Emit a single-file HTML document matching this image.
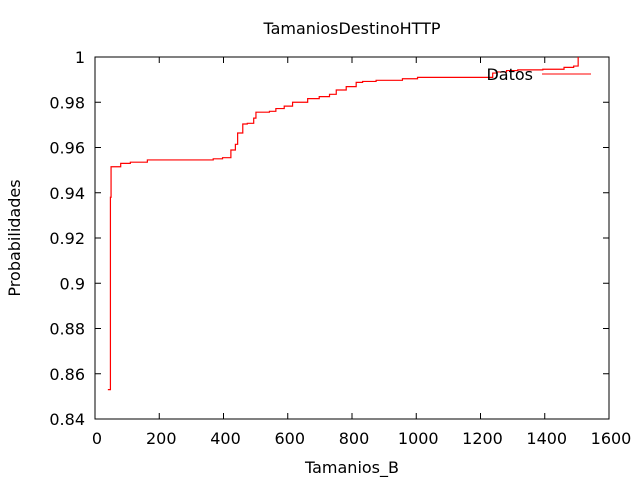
<!DOCTYPE html>
<html><head><meta charset="utf-8"><style>
body{margin:0;background:#fff}
svg text{font-family:"DejaVu Sans","Liberation Sans",sans-serif;font-size:16px;fill:#000}
</style></head><body>
<svg width="640" height="480" xmlns="http://www.w3.org/2000/svg">
<g id="g"></g>
</svg>
<script>
const xs=[40,48,50,80,110,163,368,397,423,437,444,460,474,494,501,543,563,589,615,662,698,730,751,782,813,833,875,957,1004,1238,1250,1281,1316,1394,1460,1490,1504];
const ys=[0.853,0.938,0.9515,0.953,0.9535,0.9545,0.955,0.9555,0.9589,0.9614,0.9664,0.9704,0.9707,0.973,0.9756,0.976,0.9772,0.9783,0.980,0.9816,0.9825,0.9835,0.9854,0.9869,0.9888,0.9892,0.9897,0.9904,0.991,0.9929,0.9934,0.994,0.9943,0.9946,0.9954,0.996,1.0];
const xTicks=[0,200,400,600,800,1000,1200,1400,1600];
const yTicks=[0.84,0.86,0.88,0.9,0.92,0.94,0.96,0.98,1];
const L=95,R=609,T=57,B=419;
const X=v=>L+(v-0)/1600*(R-L);
const Y=v=>B-(v-0.84)/0.16*(B-T);
const g=document.getElementById('g');
const NS='http://www.w3.org/2000/svg';
function mk(t,a,txt){const e=document.createElementNS(NS,t);for(const k in a)e.setAttribute(k,a[k]);if(txt!==undefined)e.textContent=txt;g.appendChild(e);return e;}
xTicks.forEach(v=>{
 const x=X(v);
 const t=mk('path',{d:`M${x} ${B}v-6M${x} ${T}v6`,stroke:'#000','stroke-width':1});
 
 
 const l=mk('text',{x:x+2,y:B+25,'text-anchor':'middle'},String(v));
 
 
});
yTicks.forEach(v=>{
 const y=Y(v);
 const t=mk('path',{d:`M${L} ${y}h6M${R} ${y}h-6`,stroke:'#000','stroke-width':1});
 
 
 const l=mk('text',{x:L-10,y:y+6,'text-anchor':'end'},String(v));
 
 
});
const fr=mk('rect',{x:L,y:T,width:R-L,height:B-T,fill:'none',stroke:'#000','stroke-width':1});


let d=`M${X(xs[0])} ${Y(ys[0])}`;
for(let i=1;i<xs.length;i++){d+=`H${X(xs[i])}V${Y(ys[i])}`;}
const line=mk('path',{d:d,fill:'none',stroke:'#f00','stroke-width':1.2});


const lt=mk('text',{x:533,y:80,'text-anchor':'end'},'Datos');


const ll=mk('path',{d:'M542 74H591',stroke:'#f00','stroke-width':1});


const ti=mk('text',{x:352,y:34,'text-anchor':'middle'},'TamaniosDestinoHTTP');


const xt=mk('text',{x:352,y:473,'text-anchor':'middle'},'Tamanios_B');


const yt=mk('text',{x:20,y:238,'text-anchor':'middle',transform:'rotate(-90 20 238)'},'Probabilidades');


</script>
</body></html>
